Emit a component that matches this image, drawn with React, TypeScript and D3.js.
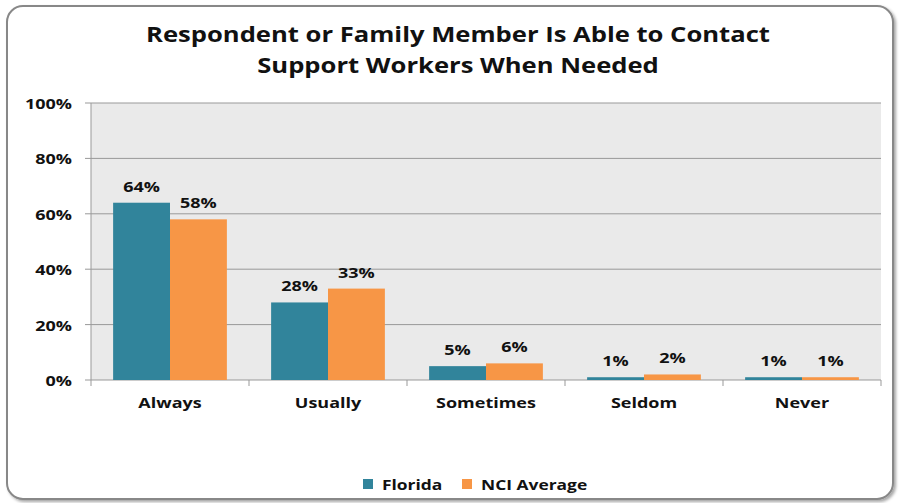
import React from "react";
import * as d3 from "d3";

const categories = ["Always", "Usually", "Sometimes", "Seldom", "Never"];
const seriesNames = ["Florida", "NCI Average"];
const florida = [64, 28, 5, 1, 1];
const nci = [58, 33, 6, 2, 1];
const yTicks = [0, 20, 40, 60, 80, 100];
const titleLines = ["Respondent or Family Member Is Able to Contact", "Support Workers When Needed"];
const colors = ["#31849B", "#F79646"];

const W = 900;
const H = 503;
const plot = { left: 91, right: 881, top: 103, bottom: 380 };
const font = "'Open Sans', 'DejaVu Sans', sans-serif";

function T({ x, y, size, anchor = "middle", sx = 1.2, children }: any) {
  return (
    <text
      transform={`translate(${x},${y}) scale(${sx},1)`}
      textAnchor={anchor}
      fontFamily={font}
      fontWeight="bold"
      fontSize={size}
      fill="#111"
    >
      {children}
    </text>
  );
}

export default function App() {
  const x = d3.scaleBand<string>().domain(categories).range([plot.left, plot.right]).paddingInner(0.28).paddingOuter(0.14);
  const x1 = d3.scaleBand<string>().domain(seriesNames).range([0, x.bandwidth()]);
  const y = d3.scaleLinear().domain([0, 100]).range([plot.bottom, plot.top]);
  const step = (plot.right - plot.left) / categories.length;
  const data = [florida, nci];

  return (
    <svg width={W} height={H} style={{ position: "absolute", left: 0, top: 0, display: "block" }}>
      <defs>
        <filter id="sh" x="-5%" y="-5%" width="110%" height="110%">
          <feDropShadow dx="2" dy="2" stdDeviation="1.5" floodColor="#000" floodOpacity="0.35" />
        </filter>
      </defs>
      <rect x={0} y={0} width={W} height={H} fill="#fff" />
      <rect x={7} y={6} width={886} height={493} rx={16} ry={16} fill="#fff" stroke="#888" strokeWidth={2} filter="url(#sh)" />
      {titleLines.map((t, i) => (
        <T key={i} x={458} y={42 + i * 31} size={21} sx={1.22}>
          {t}
        </T>
      ))}
      <rect x={plot.left} y={plot.top} width={plot.right - plot.left} height={plot.bottom - plot.top} fill="#EAEAEA" />
      {yTicks.map((t) => (
        <g key={t}>
          <line x1={plot.left} x2={plot.right} y1={y(t)} y2={y(t)} stroke="#999" strokeWidth={1} />
          <line x1={plot.left - 6} x2={plot.left} y1={y(t)} y2={y(t)} stroke="#999" strokeWidth={1} />
          <T x={72} y={y(t) + 6} size={15} anchor="end">
            {t}%
          </T>
        </g>
      ))}
      <line x1={plot.left} x2={plot.left} y1={plot.top} y2={plot.bottom} stroke="#999" />
      {d3.range(categories.length + 1).map((i) => (
        <line key={i} x1={plot.left + i * step} x2={plot.left + i * step} y1={plot.bottom} y2={plot.bottom + 6} stroke="#999" />
      ))}
      {categories.map((c, ci) => (
        <g key={c}>
          {seriesNames.map((s, si) => {
            const v = data[si][ci];
            const bx = (x(c) as number) + (x1(s) as number);
            return (
              <g key={s}>
                <rect x={bx} y={y(v)} width={x1.bandwidth()} height={plot.bottom - y(v)} fill={colors[si]} />
                <T x={bx + x1.bandwidth() / 2} y={y(v) - 11} size={15}>
                  {v}%
                </T>
              </g>
            );
          })}
          <T x={(x(c) as number) + x.bandwidth() / 2} y={408} size={15}>
            {c}
          </T>
        </g>
      ))}
      {seriesNames.map((s, i) => {
        const lx = i === 0 ? 363 : 462;
        return (
          <g key={s}>
            <rect x={lx} y={479} width={10} height={10} fill={colors[i]} />
            <T x={lx + 19} y={490} size={15} anchor="start" sx={1.16}>
              {s}
            </T>
          </g>
        );
      })}
    </svg>
  );
}
